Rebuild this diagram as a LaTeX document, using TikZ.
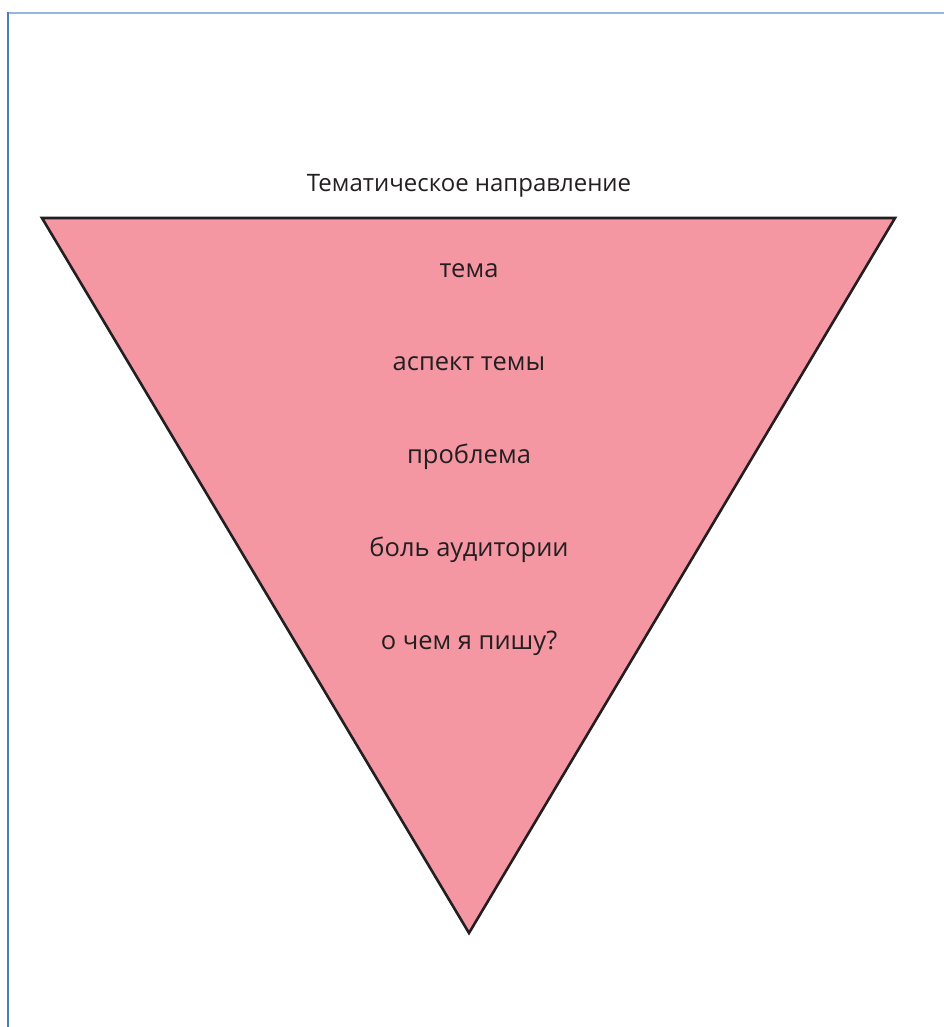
\documentclass[tikz,border=0pt]{standalone}
\usepackage{fontspec}
\setmainfont{Open Sans}
\definecolor{framelight}{HTML}{95B8DE}
\definecolor{framedark}{HTML}{4A7EBB}
\definecolor{funnelfill}{HTML}{F497A3}
\definecolor{inkdark}{HTML}{231F20}
\tikzset{
  title text/.style={font=\fontsize{24}{28}\selectfont, text=inkdark, inner sep=0pt},
  label text/.style={font=\fontsize{25.5}{30}\selectfont, text=inkdark, inner sep=0pt},
}
\begin{document}
\begin{tikzpicture}[x=1pt, y=-1pt]
  \useasboundingbox (0,0) rectangle (944,1027);
  % frame edges
  \draw[framelight, line width=2pt] (7,13) -- (944,13);
  \draw[framedark, line width=2pt] (7.5,12) -- (7.5,1027);
  % funnel
  \coordinate (tl) at (42,218);
  \coordinate (tr) at (895,218);
  \coordinate (bt) at (469,933);
  \draw[fill=funnelfill, draw=inkdark, line width=2.6pt, line join=miter] (tl) -- (tr) -- (bt) -- cycle;
  % labels
  \node[title text] (title) at (469,186) {Тематическое направление};
  \node[label text] (l1) at (469,271) {тема};
  \node[label text] (l2) at (469,364) {аспект темы};
  \node[label text] (l3) at (469,457) {проблема};
  \node[label text] (l4) at (469,550) {боль аудитории};
  \node[label text] (l5) at (469,643) {о чем я пишу?};
\end{tikzpicture}
\end{document}
